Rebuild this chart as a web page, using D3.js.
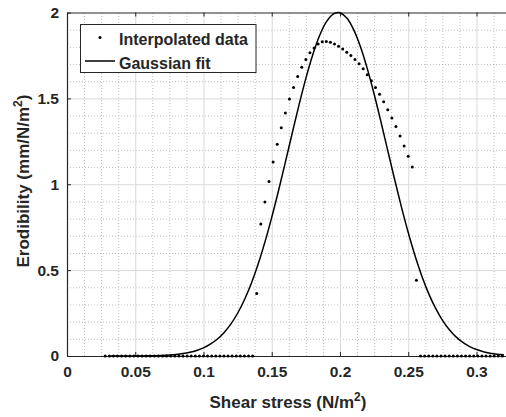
<!DOCTYPE html>
<html>
<head>
<meta charset="utf-8">
<script src="https://cdn.jsdelivr.net/npm/d3@7"></script>
<style>
body { margin: 0; background: #fff; }
text { font-family: "Liberation Sans", Arial, sans-serif; font-weight: bold; fill: #262626; }
</style>
</head>
<body>
<svg id="fig" width="506" height="417"></svg>
<script>
// interpolated erodibility data (shear stress N/m^2, erodibility mm/N/m^2)
const interpX = [
    0.028, 0.031, 0.034, 0.037, 0.040, 0.043, 0.046, 0.049, 0.052, 0.055,
    0.058, 0.061, 0.064, 0.067, 0.070, 0.073, 0.076, 0.079, 0.082, 0.085,
    0.088, 0.091, 0.094, 0.097, 0.100, 0.103, 0.106, 0.109, 0.112, 0.115,
    0.118, 0.121, 0.124, 0.127, 0.130, 0.133, 0.136,
    0.139, 0.142, 0.145, 0.148, 0.151, 0.154, 0.157, 0.160, 0.163, 0.166,
    0.169, 0.172, 0.175, 0.178, 0.181, 0.184, 0.187, 0.190, 0.193, 0.196,
    0.199, 0.202, 0.205, 0.208, 0.211, 0.214, 0.217, 0.220, 0.223, 0.226,
    0.229, 0.232, 0.235, 0.238, 0.241, 0.244, 0.247, 0.250, 0.253, 0.256,
    0.259, 0.262, 0.265, 0.268, 0.271, 0.274, 0.277, 0.280, 0.283, 0.286,
    0.289, 0.292, 0.295, 0.298, 0.301, 0.304, 0.307, 0.310, 0.313, 0.316, 0.319
];
const interpY = [
    0, 0, 0, 0, 0, 0, 0, 0, 0, 0,
    0, 0, 0, 0, 0, 0, 0, 0, 0, 0,
    0, 0, 0, 0, 0, 0, 0, 0, 0, 0,
    0, 0, 0, 0, 0, 0, 0,
    0.364, 0.768, 0.897, 1.016, 1.129, 1.233, 1.329, 1.415, 1.496, 1.564,
    1.627, 1.681, 1.726, 1.765, 1.794, 1.817, 1.829, 1.831, 1.827, 1.817,
    1.803, 1.788, 1.769, 1.749, 1.726, 1.701, 1.672, 1.637, 1.603, 1.564,
    1.524, 1.481, 1.434, 1.386, 1.336, 1.281, 1.223, 1.163, 1.100, 0.441,
    0, 0, 0, 0, 0, 0, 0, 0, 0, 0,
    0, 0, 0, 0, 0, 0, 0, 0, 0, 0, 0
];

// gaussian fit curve
const fitX = [
    0.030, 0.035, 0.040, 0.045, 0.050, 0.055, 0.060, 0.065, 0.070, 0.075,
    0.080, 0.085, 0.090, 0.095, 0.100, 0.105, 0.110, 0.115, 0.120, 0.125,
    0.130, 0.135, 0.140, 0.145, 0.150, 0.155, 0.160, 0.165, 0.170, 0.175,
    0.180, 0.185, 0.190, 0.195, 0.1985, 0.200, 0.205, 0.210, 0.215, 0.220,
    0.225, 0.230, 0.235, 0.240, 0.245, 0.250, 0.255, 0.260, 0.265, 0.270,
    0.275, 0.280, 0.285, 0.290, 0.295, 0.300, 0.305, 0.310, 0.315, 0.320
];
const fitY = [
    0.0000, 0.0001, 0.0001, 0.0002, 0.0004, 0.0007, 0.0012, 0.0021, 0.0034, 0.0056,
    0.0089, 0.0139, 0.0213, 0.0321, 0.0474, 0.0686, 0.0975, 0.1358, 0.1857, 0.2489,
    0.3272, 0.4220, 0.5342, 0.6630, 0.8071, 0.9638, 1.1291, 1.2971, 1.4620, 1.6162,
    1.7526, 1.8642, 1.9450, 1.9906, 2.0000, 1.9983, 1.9677, 1.9005, 1.8006, 1.6733,
    1.5254, 1.3638, 1.1962, 1.0290, 0.8684, 0.7188, 0.5836, 0.4649, 0.3632, 0.2782,
    0.2093, 0.1542, 0.1115, 0.0791, 0.0550, 0.0376, 0.0252, 0.0165, 0.0106, 0.0067
];

const xTicks = [0, 0.05, 0.1, 0.15, 0.2, 0.25, 0.3];
const xTickLabels = ["0", "0.05", "0.1", "0.15", "0.2", "0.25", "0.3"];
const yTicks = [0, 0.5, 1, 1.5, 2];
const yTickLabels = ["0", "0.5", "1", "1.5", "2"];
const legendLabels = ["Interpolated data", "Gaussian fit"];

const mLeft = 67, mRight = 506.5, mTop = 12.5, mBottom = 356;

const xScale = d3.scaleLinear().domain([0, 0.322]).range([mLeft, mRight]);
const yScale = d3.scaleLinear().domain([0, 2]).range([mBottom, mTop]);

const Fig = d3.select("#fig");

Fig.append("clipPath").attr("id", "plotclip")
    .append("rect")
    .attr("x", mLeft).attr("y", mTop - 2)
    .attr("width", mRight - mLeft).attr("height", mBottom - mTop + 4);

// minor grid
const xMinor = d3.range(0, 0.3225, 0.0125).filter(v => Math.abs(v / 0.05 - Math.round(v / 0.05)) > 1e-6);
const yMinor = d3.range(0.1, 2, 0.1).filter(v => Math.abs(v / 0.5 - Math.round(v / 0.5)) > 1e-6);

const minorG = Fig.append("g").attr("class", "minorgrid");
minorG.append("g")
    .attr("transform", `translate(0,${mBottom})`)
    .call(d3.axisBottom(xScale).tickValues(xMinor).tickSize(-(mBottom - mTop)).tickFormat(""));
minorG.append("g")
    .attr("transform", `translate(${mLeft},0)`)
    .call(d3.axisLeft(yScale).tickValues(yMinor).tickSize(-(mRight - mLeft)).tickFormat(""));
minorG.selectAll(".domain").remove();
minorG.selectAll("line")
    .attr("stroke", "#b0b0b0")
    .attr("stroke-width", 0.8)
    .attr("stroke-dasharray", "1,2");

// major grid
const majorG = Fig.append("g").attr("class", "majorgrid");
majorG.append("g")
    .attr("transform", `translate(0,${mBottom})`)
    .call(d3.axisBottom(xScale).tickValues(xTicks.slice(1)).tickSize(-(mBottom - mTop)).tickFormat(""));
majorG.append("g")
    .attr("transform", `translate(${mLeft},0)`)
    .call(d3.axisLeft(yScale).tickValues(yTicks.slice(1, -1)).tickSize(-(mRight - mLeft)).tickFormat(""));
majorG.selectAll(".domain").remove();
majorG.selectAll("line")
    .attr("stroke", "#dadada")
    .attr("stroke-width", 1);

// axes (ticks pointing inwards), drawn below the data
const x_axis = d3.axisBottom(xScale).tickValues(xTicks)
    .tickFormat((d, i) => xTickLabels[i]).tickSizeInner(-4).tickSizeOuter(0).tickPadding(10);
const y_axis = d3.axisLeft(yScale).tickValues(yTicks)
    .tickFormat((d, i) => yTickLabels[i]).tickSizeInner(-4).tickSizeOuter(0).tickPadding(8);
const x_top = d3.axisTop(xScale).tickValues(xTicks).tickFormat("").tickSizeInner(-4).tickSizeOuter(0);

Fig.append("g").attr("class", "axis")
    .attr("transform", `translate(0,${mBottom})`).call(x_axis);
Fig.append("g").attr("class", "axis")
    .attr("transform", `translate(${mLeft},0)`).call(y_axis);
Fig.append("g").attr("class", "axis")
    .attr("transform", `translate(0,${mTop})`).call(x_top);

Fig.selectAll(".axis path").attr("stroke", "#262626").attr("stroke-width", 1.2);
Fig.selectAll(".axis line").attr("stroke", "#262626").attr("stroke-width", 1);
Fig.selectAll(".axis text")
    .attr("font-size", 15.5)
    .attr("font-family", "Liberation Sans, Arial, sans-serif")
    .attr("font-weight", "bold")
    .attr("fill", "#262626");

// fit line
const line = d3.line()
    .x((d, i) => xScale(fitX[i]))
    .y(d => yScale(d))
    .curve(d3.curveCatmullRom);

Fig.append("path")
    .datum(fitY)
    .attr("clip-path", "url(#plotclip)")
    .attr("d", line)
    .attr("fill", "none")
    .attr("stroke", "#000")
    .attr("stroke-width", 1.5);

// interpolated points
Fig.append("g")
    .attr("clip-path", "url(#plotclip)")
    .selectAll("circle")
    .data(interpY)
    .join("circle")
    .attr("cx", (d, i) => xScale(interpX[i]))
    .attr("cy", d => yScale(d))
    .attr("r", 1.5)
    .attr("fill", "#000");

// Labels
const xl = Fig.append("text")
    .attr("x", 288)
    .attr("y", 408)
    .attr("text-anchor", "middle")
    .attr("font-size", 17);
xl.append("tspan").text("Shear stress (N/m");
xl.append("tspan").attr("dy", -7).attr("font-size", 12).text("2");
xl.append("tspan").attr("dy", 7).text(")");

const yl = Fig.append("text")
    .attr("transform", `translate(29,181) rotate(-90)`)
    .attr("text-anchor", "middle")
    .attr("font-size", 17);
yl.append("tspan").text("Erodibility (mm/N/m");
yl.append("tspan").attr("dy", -7).attr("font-size", 12).text("2");
yl.append("tspan").attr("dy", 7).text(")");

// Legend
const legendContainer = Fig.append("g").attr("transform", `translate(80.5,24.5)`);
legendContainer.append("rect")
    .attr("width", 175.5)
    .attr("height", 48)
    .attr("fill", "#fff")
    .attr("stroke", "#262626")
    .attr("stroke-width", 1);

const legends_items = legendContainer.selectAll(".legitem")
    .data(legendLabels)
    .join("g")
    .attr("class", "legitem")
    .attr("transform", (d, i) => `translate(0, ${13 + i * 23.5})`);

legends_items.filter((d, i) => i === 0)
    .append("circle")
    .attr("cx", 19.5).attr("cy", 0).attr("r", 1.5).attr("fill", "#000");
legends_items.filter((d, i) => i === 1)
    .append("line")
    .attr("x1", 4.5).attr("x2", 34.5).attr("y1", 0).attr("y2", 0)
    .attr("stroke", "#000").attr("stroke-width", 1.5);

legends_items.append("text")
    .text(d => d)
    .attr("x", 38.5)
    .attr("y", 7.5)
    .attr("font-size", 16);
</script>
</body>
</html>
